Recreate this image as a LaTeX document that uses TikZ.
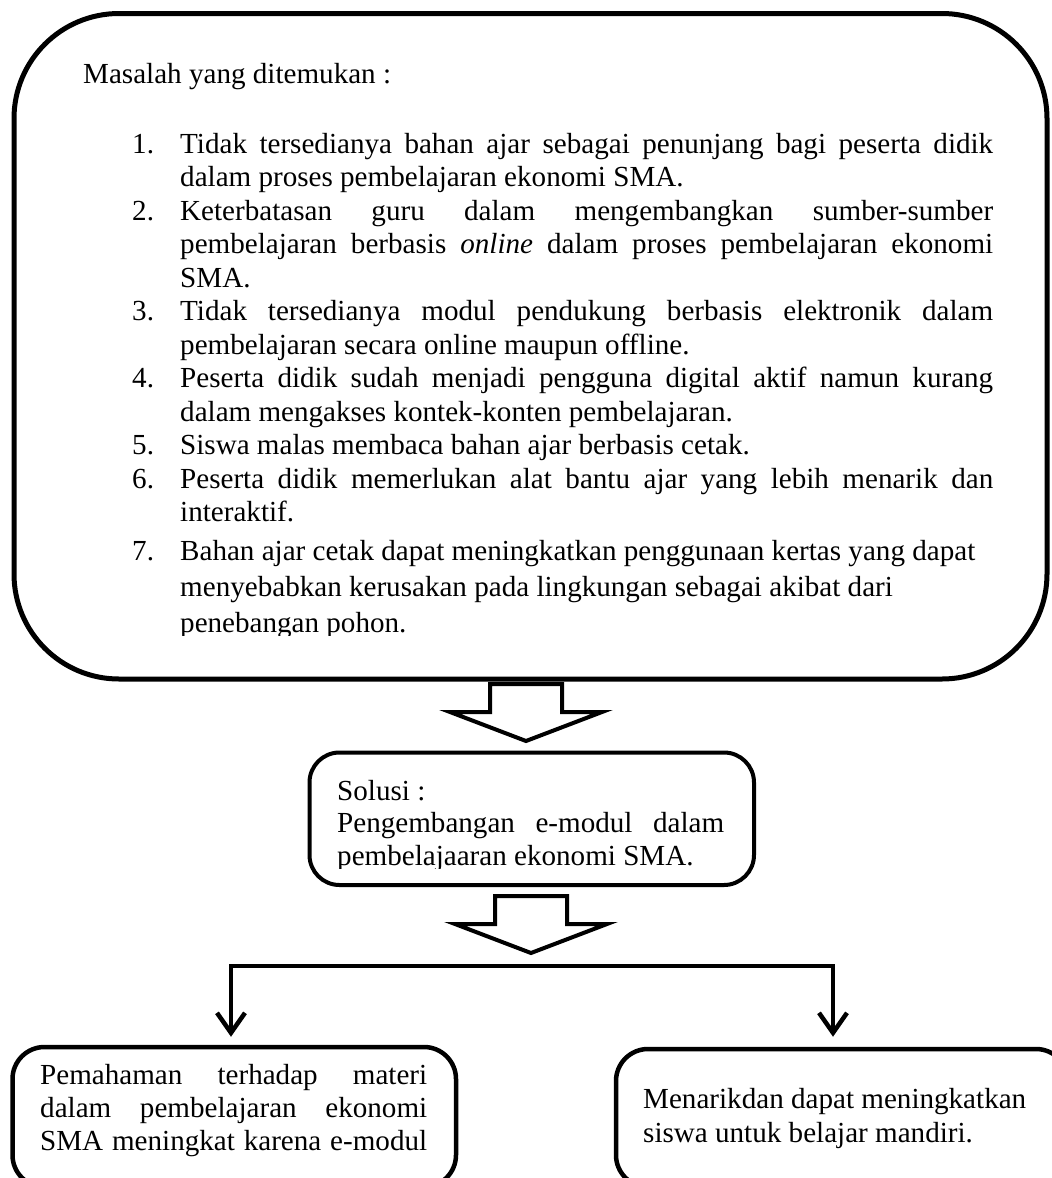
\documentclass[tikz,border=0pt]{standalone}
\usepackage{fontspec}
\setmainfont{Liberation Serif}
\usetikzlibrary{arrows.meta,calc}
\hbadness=10000
\hfuzz=50pt
\newcommand{\jrow}[2]{\hbox{\hbox to 48pt{#1\hfil}\hbox to 813pt{#2}}}
\newcommand{\rrow}[2]{\hbox{\hbox to 48pt{#1\hfil}\hbox to 813pt{#2\hfil}}}
\begin{document}
\begin{tikzpicture}[x=1pt,y=-1pt,
  txt/.style={inner sep=0pt, anchor=base west, font=\fontsize{29.1pt}{33.5pt}\selectfont},
  roundbox/.style={draw, inner sep=0pt, fill=none},
  conn/.style={line width=4.5pt, line join=miter},
  blockarr/.pic={\draw[line width=4pt, fill=white, line join=miter]
     (-36,0) -- (36,0) -- (36,28) -- (76,28) -- (0,57) -- (-76,28) -- (-36,28) -- cycle;}
]
\useasboundingbox (0,0) rectangle (1052,1178);
\fill[white] (0,0) rectangle (1052,1178);
\clip (0,0) rectangle (1052,1178);

% problem box
\node[roundbox, line width=5pt, rounded corners=105pt, minimum width=1033pt, minimum height=665.5pt] (prob) at (530.5,346.25) {};
\node[txt] (probtitle) at (83,83) {Masalah yang ditemukan :};
\begin{scope}
\clip (0,0) rectangle (1052,635);
\node[txt] (problist) at (132,153) {\vtop{\baselineskip=33.5pt\lineskip=0pt\lineskiplimit=-100pt
  \jrow{1.}{Tidak tersedianya bahan ajar sebagai penunjang bagi peserta didik}
  \rrow{}{dalam proses pembelajaran ekonomi SMA.}
  \jrow{2.}{Keterbatasan guru dalam mengembangkan sumber-sumber}
  \jrow{}{pembelajaran berbasis \textit{online} dalam proses pembelajaran ekonomi}
  \rrow{}{SMA.}
  \jrow{3.}{Tidak tersedianya modul pendukung berbasis elektronik dalam}
  \rrow{}{pembelajaran secara online maupun offline.}
  \jrow{4.}{Peserta didik sudah menjadi pengguna digital aktif namun kurang}
  \rrow{}{dalam mengakses kontek-konten pembelajaran.}
  \rrow{5.}{Siswa malas membaca bahan ajar berbasis cetak.}
  \jrow{6.}{Peserta didik memerlukan alat bantu ajar yang lebih menarik dan}
  \rrow{}{interaktif.}
  \baselineskip=36pt\vskip 3pt
  \rrow{7.}{Bahan ajar cetak dapat meningkatkan penggunaan kertas yang dapat}
  \rrow{}{menyebabkan kerusakan pada lingkungan sebagai akibat dari}
  \rrow{}{penebangan pohon.}}};
\end{scope}

% arrow 1
\coordinate (a1) at (526,684);
\pic at (a1) {blockarr};

% solution box
\node[roundbox, line width=4pt, rounded corners=30pt, minimum width=444.5pt, minimum height=132.5pt] (sol) at (531.75,818.75) {};
\begin{scope}
\clip (0,0) rectangle (1052,868);
\node[txt] (soltext) at (337,800) {\vtop{\baselineskip=32.5pt\lineskip=0pt\lineskiplimit=-100pt
  \hbox{Solusi :}
  \hbox to 387pt{Pengembangan e-modul dalam}
  \hbox{pembelajaaran ekonomi SMA.}}};
\end{scope}

% arrow 2
\coordinate (a2) at (531,896);
\pic at (a2) {blockarr};

% bottom boxes
\node[roundbox, line width=4.5pt, rounded corners=32pt, minimum width=443.5pt, minimum height=140pt] (b1) at (234.25,1117) {};
\node[roundbox, line width=4.5pt, rounded corners=32pt, minimum width=452pt, minimum height=138pt] (b2) at (842,1118) {};

\begin{scope}
\clip (0,0) rectangle (1052,1158);
\node[txt] (b1text) at (40,1084) {\vtop{\baselineskip=33pt\lineskip=0pt\lineskiplimit=-100pt
  \hbox to 387pt{Pemahaman terhadap materi}
  \hbox to 387pt{dalam pembelajaran ekonomi}
  \hbox to 387pt{SMA meningkat karena e-modul}}};
\end{scope}
\node[txt] (b2text) at (643,1108) {\vtop{\baselineskip=34pt\lineskip=0pt\lineskiplimit=-100pt
  \hbox{Menarikdan dapat meningkatkan}
  \hbox{siswa untuk belajar mandiri.}}};

% branching connector
\coordinate (jl) at (231,966);
\coordinate (jr) at (833,966);
\draw[conn, {Straight Barb[length=20pt,width=28pt]}-{Straight Barb[length=20pt,width=28pt]}]
  ($(jl |- b1.north)+(0,-8)$) -- (jl) -- (jr) -- ($(jr |- b2.north)+(0,-10)$);
\end{tikzpicture}
\end{document}
